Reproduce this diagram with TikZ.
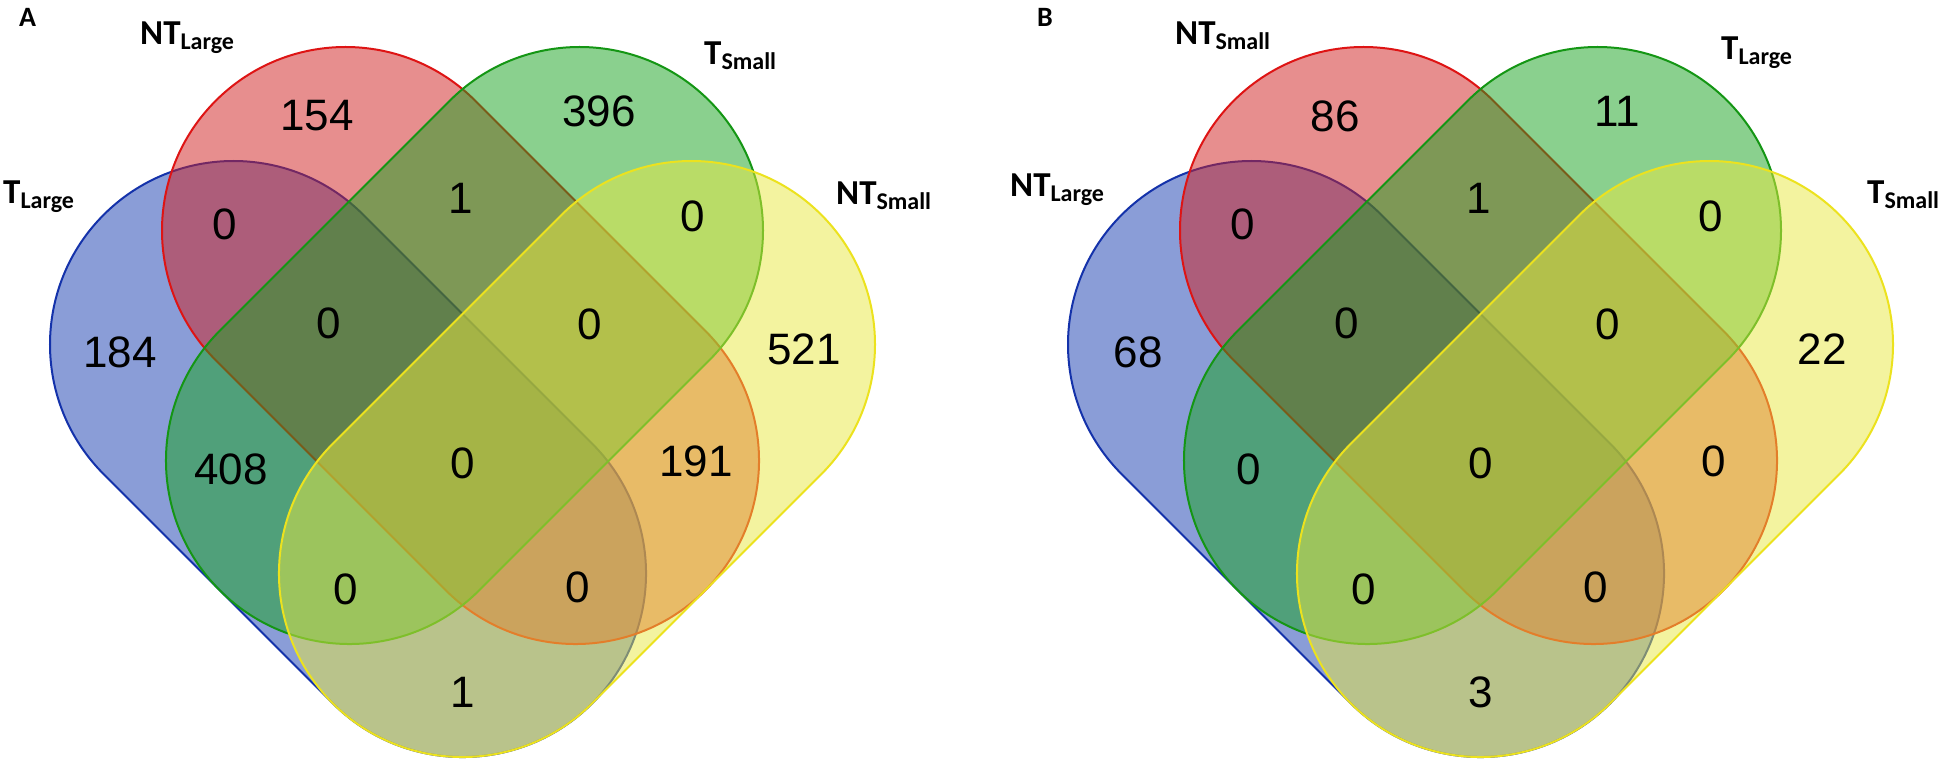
\documentclass[tikz,border=0pt]{standalone}
\usepackage{fontspec}
\setmainfont{Liberation Sans}
\newfontfamily\lblfont{Carlito}
\definecolor{bfill}{RGB}{23,61,177}
\definecolor{rfill}{RGB}{209,31,31}
\definecolor{gfill}{RGB}{23,163,31}
\definecolor{yfill}{RGB}{233,233,65}
\definecolor{bedge}{RGB}{20,50,170}
\definecolor{redge}{RGB}{222,20,20}
\definecolor{gedge}{RGB}{20,150,20}
\definecolor{yedge}{RGB}{236,226,30}
% #1,#2 = centre of first end circle, #3 = direction, #4 = length, #5 fill, #6 edge
\newcommand\vcaps[6]{%
  \begin{scope}[shift={(#1,#2)},rotate=#3]
    \path[fill=#5,fill opacity=0.5,draw=#6,line width=2pt]
      (0,183.5) arc[start angle=90,end angle=270,radius=183.5]
      -- (#4,-183.5) arc[start angle=-90,end angle=90,radius=183.5] -- cycle;
  \end{scope}}
\newcommand\vsub[1]{\raisebox{-5pt}{\fontsize{24}{24}\selectfont #1}}
\begin{document}
\begin{tikzpicture}[x=1pt,y=-1pt,
  num/.style={font=\fontsize{44}{44}\selectfont, inner sep=0pt},
  setlbl/.style={font=\lblfont\bfseries\fontsize{35}{35}\selectfont, inner sep=0pt, anchor=base west},
  panellbl/.style={font=\lblfont\bfseries\fontsize{28}{28}\selectfont, inner sep=0pt, anchor=base west}]
\useasboundingbox (0,0) rectangle (1946,762);
\fill[white] (0,0) rectangle (1946,762);

% ---------- Panel A ----------
\vcaps{233.5}{344.5}{-45}{323.9}{bfill}{bedge}
\vcaps{345.5}{230.5}{-45}{325.3}{rfill}{redge}
\vcaps{579.5}{230.5}{-135}{325.3}{gfill}{gedge}
\vcaps{691.5}{344.5}{-135}{323.9}{yfill}{yedge}

\node[panellbl] (pA) at (19,27) {A};
\node[setlbl] (aNTL) at (140,45) {NT\vsub{Large}};
\node[setlbl] (aTS) at (704,65) {T\vsub{Small}};
\node[setlbl] (aTL) at (3,204) {T\vsub{Large}};
\node[setlbl] (aNTS) at (836,205) {NT\vsub{Small}};

\node[num] (a1) at (317,116) {154};
\node[num] (a2) at (599,111) {396};
\node[num] (a3) at (120,352) {184};
\node[num] (a4) at (225,224) {0};
\node[num] (a5) at (461,198) {1};
\node[num] (a6) at (693,216) {0};
\node[num] (a7) at (804,349) {521};
\node[num] (a8) at (329,323) {0};
\node[num] (a9) at (590,324) {0};
\node[num] (a10) at (231,469) {408};
\node[num] (a11) at (463,463) {0};
\node[num] (a12) at (696,461) {191};
\node[num] (a13) at (346,589) {0};
\node[num] (a14) at (578,587) {0};
\node[num] (a15) at (463,692) {1};

% ---------- Panel B ----------
\begin{scope}[shift={(1018,0)}]
\vcaps{233.5}{344.5}{-45}{323.9}{bfill}{bedge}
\vcaps{345.5}{230.5}{-45}{325.3}{rfill}{redge}
\vcaps{579.5}{230.5}{-135}{325.3}{gfill}{gedge}
\vcaps{691.5}{344.5}{-135}{323.9}{yfill}{yedge}

\node[panellbl] (pB) at (19,27) {B};
\node[setlbl] (bNTS) at (157,45) {NT\vsub{Small}};
\node[setlbl] (bTL) at (703,60) {T\vsub{Large}};
\node[setlbl] (bNTL) at (-8,197) {NT\vsub{Large}};
\node[setlbl] (bTS) at (849,204) {T\vsub{Small}};

\node[num] (b1) at (317,116) {86};
\node[num] (b2) at (599,111) {11};
\node[num] (b3) at (120,352) {68};
\node[num] (b4) at (225,224) {0};
\node[num] (b5) at (461,198) {1};
\node[num] (b6) at (693,216) {0};
\node[num] (b7) at (804,349) {22};
\node[num] (b8) at (329,323) {0};
\node[num] (b9) at (590,324) {0};
\node[num] (b10) at (231,469) {0};
\node[num] (b11) at (463,463) {0};
\node[num] (b12) at (696,461) {0};
\node[num] (b13) at (346,589) {0};
\node[num] (b14) at (578,587) {0};
\node[num] (b15) at (463,692) {3};
\end{scope}
\end{tikzpicture}
\end{document}
